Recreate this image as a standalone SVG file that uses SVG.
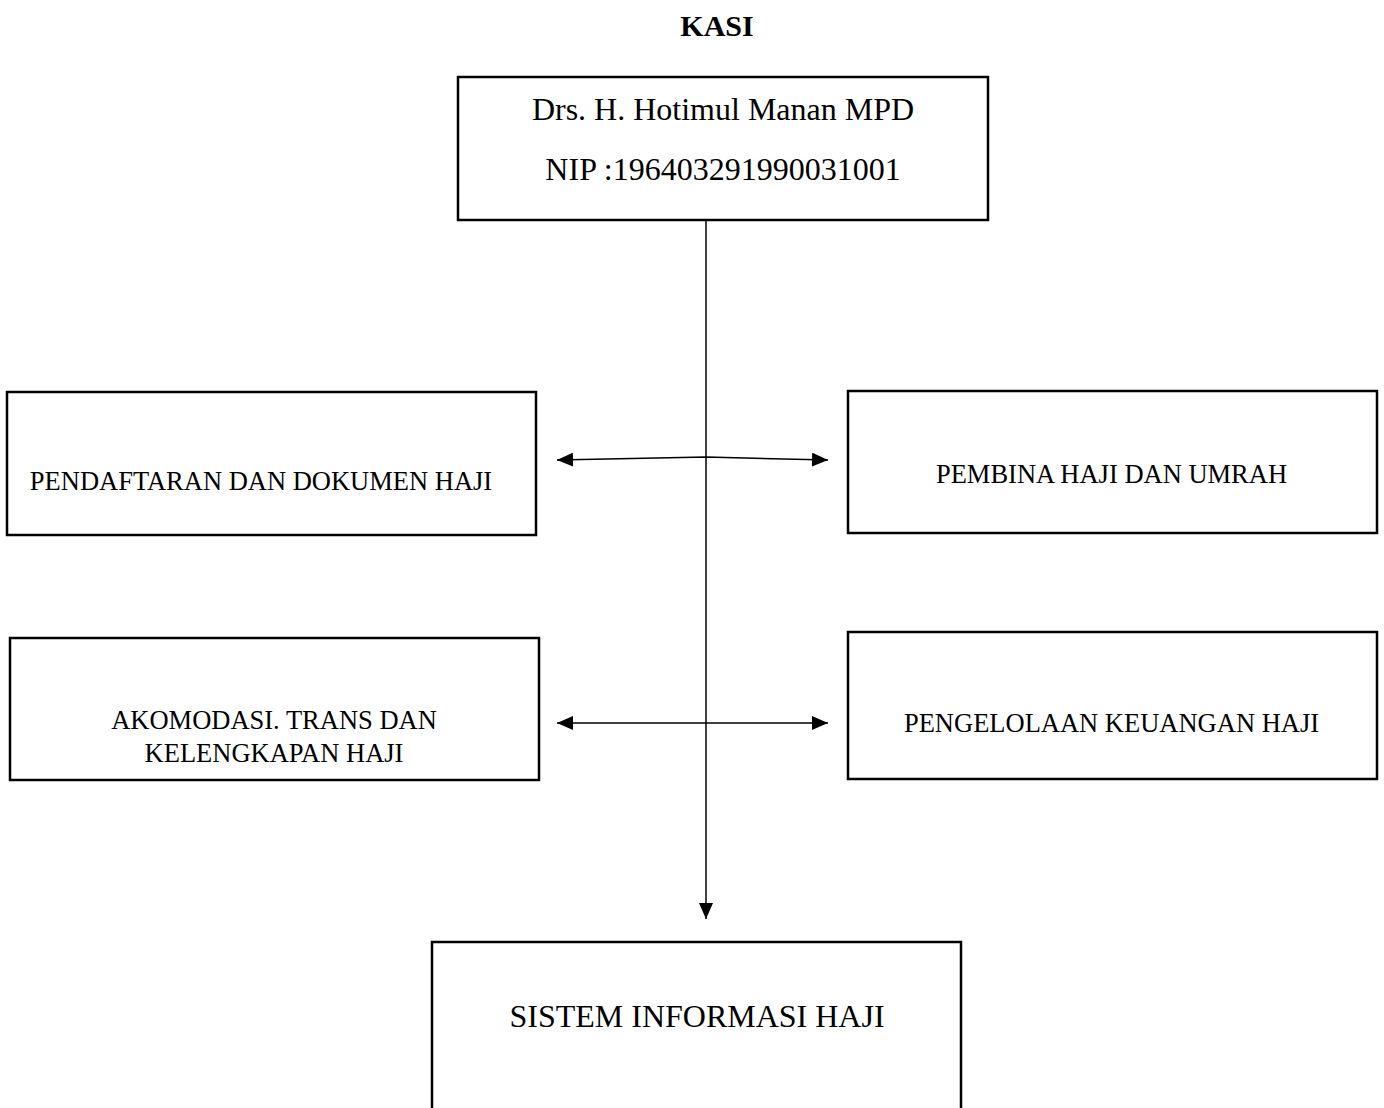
<svg xmlns="http://www.w3.org/2000/svg" width="1384" height="1108" viewBox="0 0 1384 1108">
<style>
.box{fill:#fff;stroke:#000;stroke-width:2.5}
.t{font-family:"Liberation Serif","Times New Roman",serif;fill:#000;text-anchor:middle}
.c{fill:none;stroke:#000;stroke-width:1.5}
</style>
<defs>
<marker id="ah" viewBox="0 0 16 14" refX="16" refY="7" markerWidth="16" markerHeight="14" markerUnits="userSpaceOnUse" orient="auto-start-reverse">
<path d="M0,0 L16,7 L0,14 Z" fill="#000"/>
</marker>
</defs>
<rect width="1384" height="1108" fill="#fff"/>
<text class="t" x="717" y="36" font-size="30" font-weight="bold">KASI</text>
<g id="connectors">
<line class="c" x1="706" y1="220" x2="706" y2="919" marker-end="url(#ah)"/>
<polyline class="c" points="557,460 706,457 828,460" marker-start="url(#ah)" marker-end="url(#ah)"/>
<line class="c" x1="557" y1="723" x2="828" y2="723" marker-start="url(#ah)" marker-end="url(#ah)"/>
</g>
<g id="kasi">
<rect class="box" x="458" y="77" width="530" height="143"/>
<text class="t" x="723" y="120" font-size="32">Drs. H. Hotimul Manan MPD</text>
<text class="t" x="723" y="180" font-size="32">NIP :196403291990031001</text>
</g>
<g id="pendaftaran">
<rect class="box" x="7" y="392" width="529" height="143"/>
<text class="t" x="261" y="490" font-size="26.5">PENDAFTARAN DAN DOKUMEN HAJI</text>
</g>
<g id="pembina">
<rect class="box" x="848" y="391" width="529" height="142"/>
<text class="t" x="1111.5" y="483" font-size="26.5">PEMBINA HAJI DAN UMRAH</text>
</g>
<g id="akomodasi">
<rect class="box" x="10" y="638" width="529" height="142"/>
<text class="t" x="274" y="729" font-size="26.5">AKOMODASI. TRANS DAN</text>
<text class="t" x="274" y="762" font-size="26.5">KELENGKAPAN HAJI</text>
</g>
<g id="keuangan">
<rect class="box" x="848" y="632" width="529" height="147"/>
<text class="t" x="1111.5" y="732" font-size="26.5">PENGELOLAAN KEUANGAN HAJI</text>
</g>
<g id="sistem">
<rect class="box" x="432" y="942" width="529" height="180"/>
<text class="t" x="697" y="1027" font-size="32">SISTEM INFORMASI HAJI</text>
</g>
</svg>
